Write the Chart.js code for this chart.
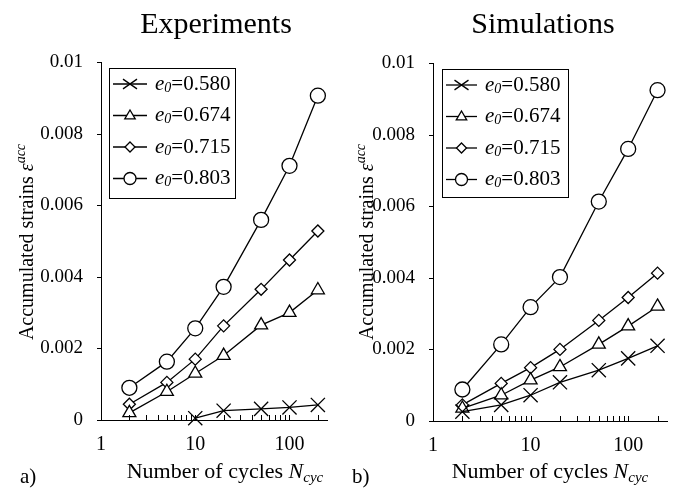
<!DOCTYPE html>
<html lang="en">
<head>
    <meta charset="UTF-8">
    <title>Accumulated strains</title>
    <script src="https://cdn.jsdelivr.net/npm/chart.js@4.4.0/dist/chart.umd.min.js"></script>
    <style>
        body { margin: 0; background: #fff; }
        .panel { position: absolute; top: 0; height: 490px; }
    </style>
</head>
<body>
    <div class="panel" style="left:0;width:340px"><canvas id="chartA" width="340" height="490"></canvas></div>
    <div class="panel" style="left:340px;width:341px"><canvas id="chartB" width="341" height="490"></canvas></div>
    <script>
        // number of cycles (x) and the e0 values of the four series
        const cycles = [2, 5, 10, 20, 50, 100, 200];
        const e0Labels = ['0.580', '0.674', '0.715', '0.803'];
        const xTickLabels = [1, 10, 100];
        const yTickLabels = [0, 0.002, 0.004, 0.006, 0.008, 0.01];

        // a) experiments
        const expE580 = [null, null, 0.00005, 0.00026, 0.00031, 0.00035, 0.00042];
        const expE674 = [0.0002, 0.00079, 0.0013, 0.0018, 0.00265, 0.0030, 0.00363];
        const expE715 = [0.00044, 0.00105, 0.0017, 0.00263, 0.00365, 0.00447, 0.00528];
        const expE803 = [0.0009, 0.00163, 0.00256, 0.00372, 0.00559, 0.0071, 0.00906];

        // b) simulations
        const simE580 = [0.00026, 0.00045, 0.00072, 0.00108, 0.00142, 0.00175, 0.0021];
        const simE674 = [0.00035, 0.00072, 0.00114, 0.00151, 0.00214, 0.00265, 0.0032];
        const simE715 = [0.00045, 0.00105, 0.00149, 0.0020, 0.00281, 0.00345, 0.00413];
        const simE803 = [0.00088, 0.00214, 0.00318, 0.00402, 0.00613, 0.0076, 0.00924];

        const SERIF = "'Liberation Serif', 'Times New Roman', serif";
        const markers = [
            { style: 'crossRot', r: 10, lr: 7 },
            { style: 'triangle', r: 7.5, lr: 5.5 },
            { style: 'rectRot', r: 6, lr: 5 },
            { style: 'circle', r: 7.5, lr: 6 }
        ];

        function toPoints(values) {
            return cycles.map((c, i) => ({ x: c, y: values[i] })).filter(p => p.y !== null);
        }

        // legend marker (own drawing, so the text can carry a subscript)
        function drawMarker(ctx, style, x, y, r) {
            ctx.beginPath();
            if (style === 'circle') {
                ctx.arc(x, y, r, 0, Math.PI * 2);
            } else if (style === 'triangle') {
                ctx.moveTo(x, y - r);
                ctx.lineTo(x + r * 0.95, y + r * 0.6);
                ctx.lineTo(x - r * 0.95, y + r * 0.6);
                ctx.closePath();
            } else if (style === 'rectRot') {
                ctx.moveTo(x, y - r); ctx.lineTo(x + r, y);
                ctx.lineTo(x, y + r); ctx.lineTo(x - r, y);
                ctx.closePath();
            } else {
                ctx.moveTo(x - r, y - r * 0.7); ctx.lineTo(x + r, y + r * 0.7);
                ctx.moveTo(x + r, y - r * 0.7); ctx.lineTo(x - r, y + r * 0.7);
                ctx.stroke();
                return;
            }
            ctx.fillStyle = '#fff';
            ctx.fill();
            ctx.stroke();
        }

        // draw pieces of text one after another, each with its own font and offset
        function drawRuns(ctx, runs, x, y) {
            runs.forEach(run => {
                ctx.font = run.font;
                ctx.fillText(run.text, x, y + (run.dy || 0));
                x += ctx.measureText(run.text).width;
            });
        }
        function runsWidth(ctx, runs) {
            return runs.reduce((w, run) => { ctx.font = run.font; return w + ctx.measureText(run.text).width; }, 0);
        }

        function panelPlugin(cfg) {
            return {
                id: 'panel' + cfg.letter,
                afterDraw(chart) {
                    const ctx = chart.ctx;
                    const xs = chart.scales.x, ys = chart.scales.y;
                    const area = chart.chartArea;
                    ctx.save();
                    ctx.fillStyle = '#000';
                    ctx.strokeStyle = '#000';
                    ctx.lineWidth = 1;

                    // tick marks: x inward, y outward
                    xs.ticks.forEach(t => {
                        const v = t.value;
                        if (v <= 1) return;
                        const m = v / Math.pow(10, Math.floor(Math.log10(v) + 1e-9));
                        if (Math.abs(m - Math.round(m)) > 1e-6) return;
                        const px = Math.round(xs.getPixelForValue(v)) + 0.5;
                        ctx.beginPath();
                        ctx.moveTo(px, area.bottom);
                        ctx.lineTo(px, area.bottom - 5);
                        ctx.stroke();
                    });
                    ys.ticks.forEach(t => {
                        const py = Math.round(ys.getPixelForValue(t.value)) + 0.5;
                        ctx.beginPath();
                        ctx.moveTo(area.left, py);
                        ctx.lineTo(area.left - 4, py);
                        ctx.stroke();
                    });

                    // title
                    ctx.textAlign = 'center';
                    ctx.textBaseline = 'alphabetic';
                    ctx.font = '30px ' + SERIF;
                    ctx.fillText(cfg.title, cfg.titleX, 33);

                    // y axis title
                    ctx.textAlign = 'left';
                    const yRuns = [
                        { text: 'Accumulated strains ', font: '20px ' + SERIF },
                        { text: 'ε', font: 'italic 20px ' + SERIF },
                        { text: 'acc', font: 'italic 14px ' + SERIF, dy: -8 }
                    ];
                    ctx.save();
                    ctx.translate(33, 242);
                    ctx.rotate(-Math.PI / 2);
                    drawRuns(ctx, yRuns, -runsWidth(ctx, yRuns) / 2, 0);
                    ctx.restore();

                    // x axis title
                    const xRuns = [
                        { text: 'Number of cycles ', font: '22px ' + SERIF },
                        { text: 'N', font: 'italic 22px ' + SERIF },
                        { text: 'cyc', font: 'italic 15px ' + SERIF, dy: 4 }
                    ];
                    drawRuns(ctx, xRuns, cfg.xTitleX - runsWidth(ctx, xRuns) / 2, 478);

                    // panel letter
                    ctx.font = '21px ' + SERIF;
                    ctx.fillText(cfg.letter + ')', cfg.letterX, 483);

                    // legend
                    const L = cfg.legend;
                    ctx.lineWidth = 1;
                    ctx.strokeRect(L.x + 0.5, L.y + 0.5, L.w, L.h);
                    ctx.textBaseline = 'middle';
                    ctx.lineWidth = 1.3;
                    chart.data.datasets.forEach((ds, i) => {
                        const ry = L.y + 16 + i * 31.5;
                        ctx.beginPath();
                        ctx.moveTo(L.x + 4, ry);
                        ctx.lineTo(L.x + 4 + L.sample, ry);
                        ctx.stroke();
                        drawMarker(ctx, markers[i].style, L.x + 4 + L.sample / 2, ry, markers[i].lr);
                        ctx.fillStyle = '#000';
                        drawRuns(ctx, [
                            { text: 'e', font: 'italic 21px ' + SERIF },
                            { text: '0', font: 'italic 14px ' + SERIF, dy: 4 },
                            { text: '=' + e0Labels[i], font: '21px ' + SERIF }
                        ], L.x + L.textOff, ry);
                    });
                    ctx.restore();
                }
            };
        }

        function makeChart(id, seriesList, cfg) {
            const datasets = seriesList.map((values, i) => ({
                label: 'e0=' + e0Labels[i],
                data: toPoints(values),
                borderColor: '#000',
                borderWidth: 1.3,
                pointStyle: markers[i].style,
                pointRadius: markers[i].r,
                pointHoverRadius: markers[i].r,
                pointBackgroundColor: '#fff',
                pointBorderColor: '#000',
                pointBorderWidth: 1.3,
                tension: 0,
                clip: false
            }));
            return new Chart(document.getElementById(id), {
                type: 'line',
                data: { datasets },
                options: {
                    responsive: false,
                    animation: false,
                    layout: { padding: { top: cfg.top, right: cfg.right, left: 0, bottom: 0 } },
                    plugins: { legend: { display: false }, tooltip: { enabled: false } },
                    scales: {
                        x: {
                            type: 'logarithmic',
                            min: 1,
                            max: 250,
                            grid: { display: false, drawTicks: false },
                            border: { display: true, color: '#000', width: 1 },
                            ticks: {
                                autoSkip: false,
                                maxRotation: 0,
                                padding: 13,
                                color: '#000',
                                font: { family: SERIF, size: 20 },
                                callback: v => xTickLabels.includes(v) ? String(v) : ''
                            },
                            afterFit: s => { s.height = 490 - cfg.bottom; }
                        },
                        y: {
                            min: 0,
                            max: 0.01,
                            grid: { display: false, drawTicks: false },
                            border: { display: true, color: '#000', width: 1 },
                            ticks: {
                                stepSize: 0.002,
                                padding: 18,
                                color: '#000',
                                font: { family: SERIF, size: 19 },
                                callback: v => {
                                    const t = yTickLabels.find(k => Math.abs(k - v) < 1e-9);
                                    return t === undefined ? '' : (t === 0 ? '0' : String(t));
                                }
                            },
                            afterFit: s => { s.width = cfg.left; }
                        }
                    }
                },
                plugins: [panelPlugin(cfg)]
            });
        }

        makeChart('chartA', [expE580, expE674, expE715, expE803], {
            letter: 'a', title: 'Experiments', titleX: 216, xTitleX: 225, letterX: 20,
            left: 101, right: 7, top: 62, bottom: 420,
            legend: { x: 109, y: 68, w: 126, h: 130, sample: 34, textOff: 46 }
        });
        makeChart('chartB', [simE580, simE674, simE715, simE803], {
            letter: 'b', title: 'Simulations', titleX: 203, xTitleX: 210, letterX: 12,
            left: 93, right: 14, top: 63, bottom: 421,
            legend: { x: 102, y: 69, w: 126, h: 128, sample: 31, textOff: 43 }
        });
    </script>
</body>
</html>
